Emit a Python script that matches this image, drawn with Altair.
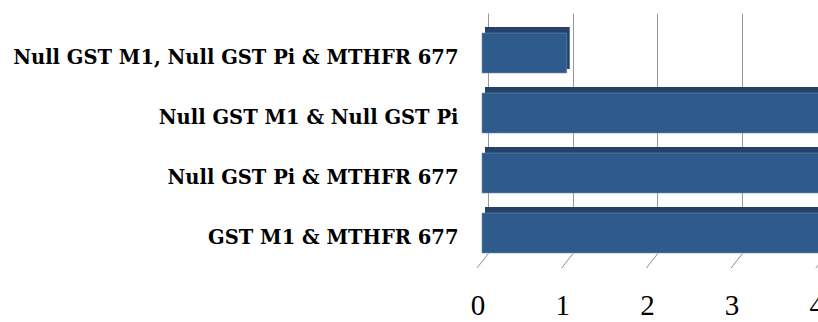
import altair as alt
import pandas as pd

categories = [
    "Null GST M1, Null GST Pi & MTHFR 677",
    "Null GST M1 & Null GST Pi",
    "Null GST Pi & MTHFR 677",
    "GST M1 & MTHFR 677",
]
values = [1, 5, 5, 5]
tick_values = [0, 1, 2, 3, 4]
tick_labels = ["0", "1", "2", "3", "4"]

df = pd.DataFrame({"combo": categories, "value": values})
ticks_df = pd.DataFrame({"t": tick_values, "label": tick_labels})

x_scale = alt.Scale(domain=[0, 3.896], nice=False, zero=False)
y_scale = alt.Scale(domain=categories, paddingInner=0, paddingOuter=0)

x_axis = alt.Axis(
    values=tick_values, title=None, domain=False, ticks=False, tickSize=0,
    grid=True, gridColor="#999999", gridWidth=1, labels=False,
)
y_axis = alt.Axis(
    title=None, domain=False, ticks=False, tickSize=0, grid=False,
    labelFont="DejaVu Serif", labelFontWeight="bold", labelFontSize=19.5,
    labelColor="#000000", labelPadding=30, labelOffset=15, labelLimit=700,
)

back = alt.Chart(df).mark_bar(
    color="#24416a", height=42, xOffset=-3, x2Offset=-3, yOffset=5
).encode(
    x=alt.X("value:Q", scale=x_scale, axis=x_axis),
    x2=alt.datum(0),
    y=alt.Y("combo:N", scale=y_scale, axis=y_axis, sort=categories),
)

front = alt.Chart(df).mark_bar(
    color="#2e5a8c", height=40, xOffset=-6, x2Offset=-6, yOffset=10,
    stroke="#6d8db5", strokeWidth=0.6,
).encode(
    x=alt.X("value:Q", scale=x_scale, axis=x_axis),
    x2=alt.datum(0),
    y=alt.Y("combo:N", scale=y_scale, axis=y_axis, sort=categories),
)

floor_ticks = alt.Chart(ticks_df).mark_rule(
    color="#8c8c8c", strokeWidth=1, x2Offset=-11
).encode(
    x=alt.X("t:Q", scale=x_scale, axis=x_axis),
    x2="t:Q",
    y=alt.value(241),
    y2=alt.value(255),
)

tick_text = alt.Chart(ticks_df).mark_text(
    font="Liberation Serif", fontSize=29, color="#000000",
    align="center", baseline="alphabetic", dx=-10,
).encode(
    x=alt.X("t:Q", scale=x_scale, axis=x_axis),
    y=alt.value(302),
    text="label:N",
)

chart = alt.layer(floor_ticks, back, front, tick_text).properties(
    width=330, height=240,
    background="#ffffff",
    autosize=alt.AutoSizeParams(type="none"),
    padding={"left": 488, "top": 13, "right": 0, "bottom": 69},
).configure_view(
    strokeWidth=0, stroke="transparent"
).configure_axis(
    domain=False, ticks=False
).configure_axisY(
    grid=False
)

chart.save("out.html", embed_options={"renderer": "svg", "actions": False})
